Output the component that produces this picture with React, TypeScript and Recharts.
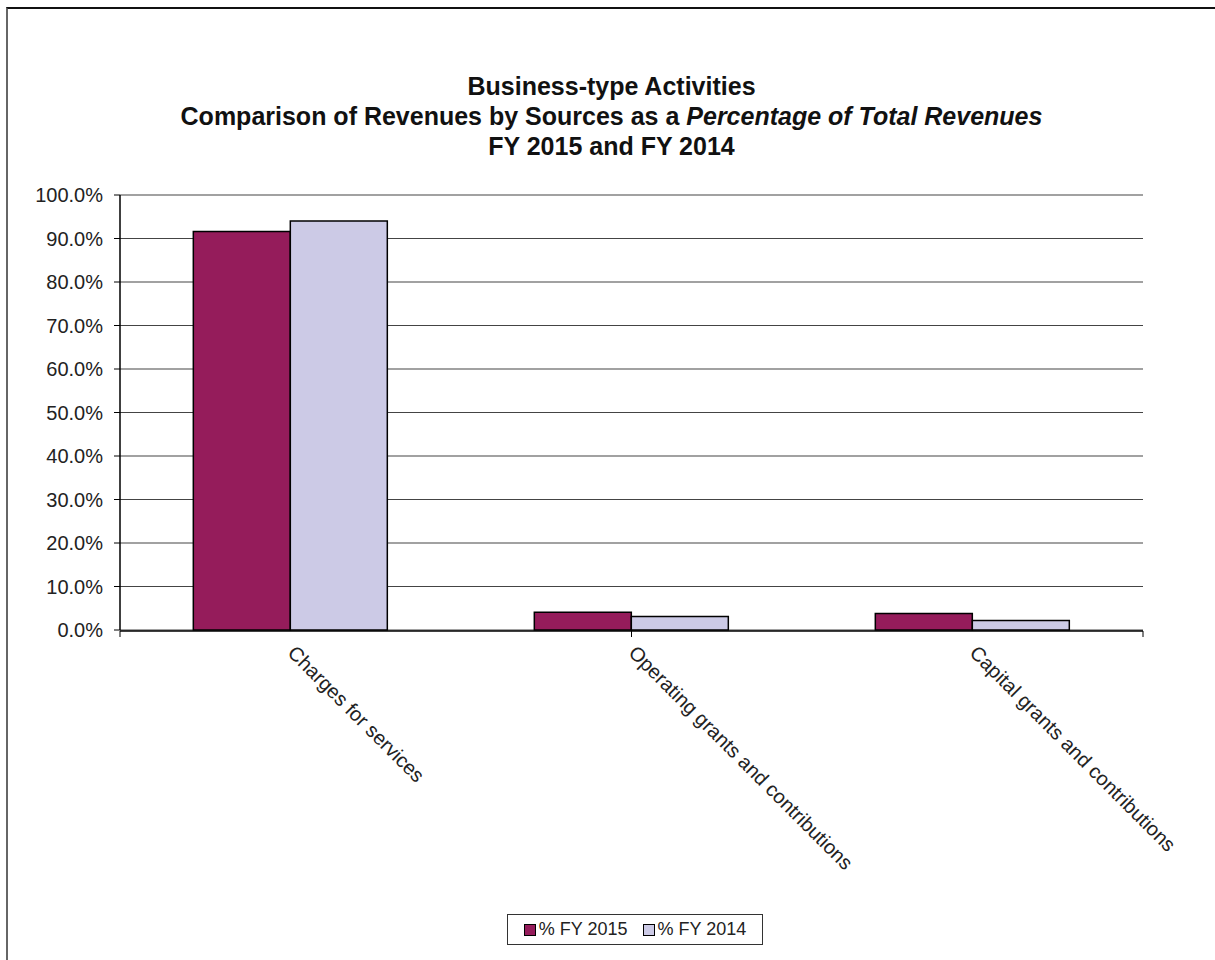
import React from 'react';
import {
  BarChart,
  Bar,
  XAxis,
  YAxis,
  CartesianGrid,
  Legend,
} from 'recharts';

// Revenue sources (categories)
const sources = [
  'Charges for services',
  'Operating grants and contributions',
  'Capital grants and contributions',
];

// Percent of total revenues
const fy2015 = [91.6, 4.1, 3.8];
const fy2014 = [94.0, 3.1, 2.2];

const yTicks = [0, 10, 20, 30, 40, 50, 60, 70, 80, 90, 100];
const seriesNames = ['% FY 2015', '% FY 2014'];
const seriesColors = ['#951C5B', '#CCCAE6'];

const data = sources.map((name, i) => ({
  name,
  fy2015: fy2015[i],
  fy2014: fy2014[i],
}));

const FONT = "Arial, 'Liberation Sans', sans-serif";

const SlantedTick = (props: any) => {
  const { x, y, payload } = props;
  const px = x - 4;
  const py = y + 16;
  return (
    <text
      x={px}
      y={py}
      transform={`rotate(45, ${px}, ${py})`}
      textAnchor="start"
      fontFamily={FONT}
      fontSize={20}
      fill="#222"
    >
      {payload.value}
    </text>
  );
};

const NoLabel = () => <g />;

const LegendBox = () => (
  <div
    style={{
      width: 256,
      height: 31,
      boxSizing: 'border-box',
      border: '1.5px solid #333',
      background: '#fff',
      display: 'flex',
      alignItems: 'center',
      justifyContent: 'center',
      gap: 15,
      fontFamily: FONT,
      fontSize: 18,
      color: '#222',
    }}
  >
    {seriesNames.map((n, i) => (
      <span key={n} style={{ display: 'flex', alignItems: 'center' }}>
        <span
          style={{
            display: 'inline-block',
            width: 10,
            height: 10,
            background: seriesColors[i],
            border: '1.5px solid #000',
            marginRight: 3,
          }}
        />
        {n}
      </span>
    ))}
  </div>
);

export default function App() {
  return (
    <div
      style={{
        position: 'absolute',
        left: 6,
        top: 7,
        width: 1209,
        height: 953,
        boxSizing: 'border-box',
        borderTop: '2px solid #111',
        borderLeft: '2px solid #666',
        background: '#fff',
        overflow: 'hidden',
      }}
    >
      <div
        style={{
          position: 'absolute',
          left: 0,
          top: 62,
          width: 1207,
          textAlign: 'center',
          fontFamily: FONT,
          fontWeight: 'bold',
          fontSize: 25,
          lineHeight: '30px',
          color: '#111',
        }}
      >
        <div>Business-type Activities</div>
        <div>
          Comparison of Revenues by Sources as a <i>Percentage of Total Revenues</i>
        </div>
        <div>FY 2015 and FY 2014</div>
      </div>
      <BarChart
        width={1207}
        height={951}
        data={data}
        margin={{ top: 186, right: 72, left: 0, bottom: 328 }}
        barCategoryGap="21.5%"
        barGap={0}
      >
        <CartesianGrid vertical={false} stroke="#444" strokeWidth={1.2} />
        <XAxis
          xAxisId="sep"
          type="number"
          domain={[0, 3]}
          ticks={[0, 1, 2, 3]}
          interval={0}
          height={1}
          axisLine={{ stroke: '#000', strokeWidth: 1.5 }}
          tick={<NoLabel />}
          tickLine={{ stroke: '#000' }}
          tickSize={6}
        />
        <XAxis
          xAxisId="cat"
          dataKey="name"
          height={1}
          axisLine={false}
          tickLine={false}
          tick={<SlantedTick />}
          interval={0}
        />
        <YAxis
          width={112}
          domain={[0, 100]}
          ticks={yTicks}
          interval={0}
          tickFormatter={(v: number) => v.toFixed(1) + '%'}
          axisLine={{ stroke: '#000', strokeWidth: 1.5 }}
          tickLine={{ stroke: '#000' }}
          tickSize={6}
          tickMargin={11}
          tick={{ fontFamily: FONT, fontSize: 20, fill: '#222' }}
        />
        <YAxis
          yAxisId="r"
          orientation="right"
          width={0}
          domain={[0, 100]}
          tick={false}
          tickLine={false}
          axisLine={{ stroke: '#888', strokeWidth: 1.5 }}
        />
        <Legend
          layout="horizontal"
          verticalAlign="middle"
          align="center"
          wrapperStyle={{ left: 499, top: 905, width: 256, height: 31 }}
          content={<LegendBox />}
        />
        <Bar
          xAxisId="cat"
          dataKey="fy2015"
          name={seriesNames[0]}
          fill={seriesColors[0]}
          stroke="#000"
          strokeWidth={1.5}
          isAnimationActive={false}
        />
        <Bar
          xAxisId="cat"
          dataKey="fy2014"
          name={seriesNames[1]}
          fill={seriesColors[1]}
          stroke="#000"
          strokeWidth={1.5}
          isAnimationActive={false}
        />
      </BarChart>
    </div>
  );
}
